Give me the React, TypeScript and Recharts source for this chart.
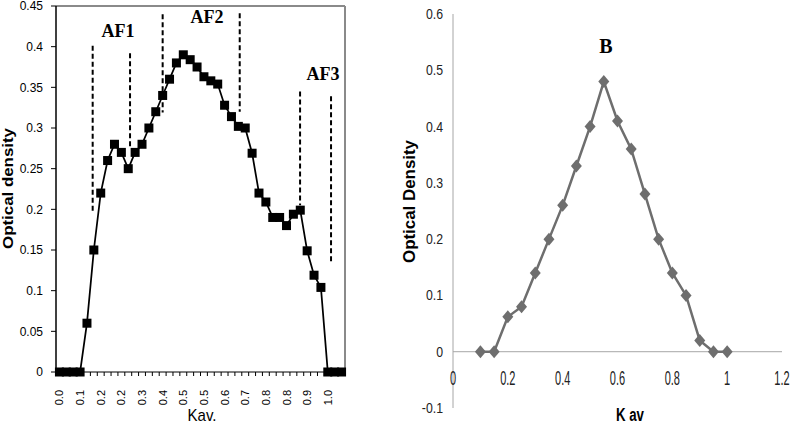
import React from "react";
import { Line, LineChart, ReferenceLine, XAxis, YAxis } from "recharts";

// panel A: elution profile, one value per fraction (Kav categories)
const kavLabels = ["0.0", "0.1", "0.2", "0.2", "0.3", "0.4", "0.5", "0.5", "0.6", "0.7", "0.8", "0.8", "0.9", "1.0"];
const densityA = [
  0, 0, 0, 0, 0.06, 0.15, 0.22, 0.26, 0.28, 0.27, 0.25, 0.27, 0.28, 0.3, 0.32, 0.34, 0.36, 0.38, 0.39, 0.384, 0.375,
  0.363, 0.358, 0.354, 0.328, 0.314, 0.302, 0.3, 0.269, 0.22, 0.209, 0.19, 0.19, 0.18, 0.194, 0.199, 0.149, 0.119,
  0.104, 0, 0, 0,
];
const densityTicks = [0, 0.05, 0.1, 0.15, 0.2, 0.25, 0.3, 0.35, 0.4, 0.45];
// dashed cut marks between pooled fractions (fraction index, top, bottom)
const cutAt = [4.83, 10.26, 15.0, 26.2, 34.97, 39.47];
const cutTop = [0.401, 0.392, 0.44, 0.441, 0.345, 0.339];
const cutBottom = [0.195, 0.277, 0.319, 0.32, 0.205, 0.134];

// panel B
const kavB = [0.1, 0.15, 0.2, 0.25, 0.3, 0.35, 0.4, 0.45, 0.5, 0.55, 0.6, 0.65, 0.7, 0.75, 0.8, 0.85, 0.9, 0.95, 1.0];
const densityB = [0, 0, 0.062, 0.08, 0.14, 0.2, 0.26, 0.33, 0.4, 0.48, 0.41, 0.36, 0.28, 0.2, 0.14, 0.1, 0.02, 0, 0];
const kavTicksB = [0, 0.2, 0.4, 0.6, 0.8, 1, 1.2];
const densityTicksB = [-0.1, 0, 0.1, 0.2, 0.3, 0.4, 0.5, 0.6];

const dataA = densityA.map((v, i) => ({ i, v }));
const dataB = kavB.map((x, i) => ({ x, y: densityB[i] }));

const sans = "'Liberation Sans', Arial, sans-serif";
const serif = "'Liberation Serif', 'Times New Roman', serif";
const greyB = "#6e6e6e";

const ticksA = [
  ...densityA.map((_, i) => i - 0.5),
  densityA.length - 0.5,
  ...kavLabels.map((_, j) => j * 3),
];

function KavTick({ x, y, payload }: any) {
  const v = payload.value;
  if (!Number.isInteger(v)) {
    return <line x1={x} y1={y} x2={x} y2={y + 4} stroke="#000" strokeWidth={1} />;
  }
  return (
    <text
      transform={`translate(${x + 4},${y + 18}) rotate(-90)`}
      textAnchor="end"
      fontSize={11}
      fontFamily={sans}
      fill="#000"
    >
      {kavLabels[v / 3]}
    </text>
  );
}

function Square({ cx, cy }: any) {
  if (cx == null || cy == null) return null;
  return <rect x={cx - 4.5} y={cy - 4.5} width={9} height={9} fill="#000" />;
}

function Diamond({ cx, cy }: any) {
  if (cx == null || cy == null) return null;
  return <path d={`M${cx},${cy - 6.5} L${cx + 5.5},${cy} L${cx},${cy + 6.5} L${cx - 5.5},${cy} Z`} fill={greyB} />;
}

function BTickX({ x, y, payload }: any) {
  return (
    <text
      transform={`translate(${x},${y - 23}) scale(0.55,1)`}
      textAnchor="middle"
      fontSize={20}
      fontFamily={sans}
      fill="#222"
    >
      {String(payload.value)}
    </text>
  );
}

function BTickY({ x, y, payload }: any) {
  return (
    <text
      transform={`translate(${x - 10},${y + 5}) scale(0.82,1)`}
      textAnchor="end"
      fontSize={15}
      fontFamily={sans}
      fill="#222"
    >
      {String(payload.value)}
    </text>
  );
}

function PanelA() {
  return (
    <LineChart width={370} height={426} data={dataA} margin={{ top: 6, right: 25, bottom: 14, left: 12 }}>
      <XAxis
        dataKey="i"
        type="number"
        domain={[-0.5, 41.5]}
        ticks={ticksA}
        interval={0}
        tick={<KavTick />}
        tickLine={false}
        tickSize={0}
        tickMargin={0}
        height={40}
        axisLine={{ stroke: "#000", strokeWidth: 1 }}
      />
      <YAxis
        type="number"
        domain={[0, 0.45]}
        ticks={densityTicks}
        interval={0}
        width={44}
        tickSize={5}
        tickMargin={8}
        tickLine={{ stroke: "#000" }}
        axisLine={{ stroke: "#000", strokeWidth: 1.5 }}
        tick={{ fontSize: 12, fill: "#000", fontFamily: sans }}
        tickFormatter={(v: number) => String(Number(v.toFixed(2)))}
      />
      <ReferenceLine y={0.45} stroke="#8a8a8a" strokeWidth={2} />
      <ReferenceLine x={41.5} stroke="#8a8a8a" strokeWidth={2} />
      {cutAt.map((c, k) => (
        <ReferenceLine
          key={k}
          segment={[
            { x: c, y: cutTop[k] },
            { x: c, y: cutBottom[k] },
          ]}
          stroke="#000"
          strokeWidth={2}
          strokeDasharray="5 3"
        />
      ))}
      <Line
        dataKey="v"
        type="linear"
        stroke="#000"
        strokeWidth={1.75}
        dot={<Square />}
        activeDot={false}
        isAnimationActive={false}
      />
    </LineChart>
  );
}

function PanelB() {
  return (
    <LineChart width={400} height={426} data={dataB} margin={{ top: 14, right: 8, bottom: 0, left: 13 }}>
      <XAxis
        dataKey="x"
        type="number"
        domain={[0, 1.2]}
        ticks={kavTicksB}
        interval={0}
        height={18}
        tickSize={0}
        tickMargin={0}
        tickLine={false}
        axisLine={false}
        tick={<BTickX />}
      />
      <YAxis
        type="number"
        domain={[-0.1, 0.6]}
        ticks={densityTicksB}
        interval={0}
        width={50}
        tickSize={0}
        tickMargin={0}
        tickLine={false}
        axisLine={{ stroke: "#a6a6a6", strokeWidth: 1 }}
        tick={<BTickY />}
      />
      <ReferenceLine y={0} stroke="#a6a6a6" strokeWidth={1} />
      <Line
        dataKey="y"
        type="linear"
        stroke={greyB}
        strokeWidth={2.5}
        dot={<Diamond />}
        activeDot={false}
        isAnimationActive={false}
      />
    </LineChart>
  );
}

export default function App() {
  return (
    <div style={{ position: "absolute", left: 0, top: 0, width: 790, height: 426, background: "#fff", overflow: "hidden" }}>
      <div style={{ position: "absolute", left: 0, top: 0 }}>
        <PanelA />
      </div>
      <div style={{ position: "absolute", left: 390, top: 0 }}>
        <PanelB />
      </div>
      <svg width={790} height={426} style={{ position: "absolute", left: 0, top: 0, pointerEvents: "none" }}>
        <text
          transform="translate(12.5,188.5) rotate(-90)"
          textAnchor="middle"
          fontSize={14}
          fontWeight="bold"
          fontFamily={sans}
          textLength={121}
          lengthAdjust="spacingAndGlyphs"
        >
          Optical density
        </text>
        <text x={202} y={421} textAnchor="middle" fontSize={17} fontFamily={sans} textLength={29} lengthAdjust="spacingAndGlyphs">
          Kav.
        </text>
        <text x={118} y={36.5} textAnchor="middle" fontSize={18} fontWeight="bold" fontFamily={serif}>
          AF1
        </text>
        <text x={207} y={23} textAnchor="middle" fontSize={18} fontWeight="bold" fontFamily={serif}>
          AF2
        </text>
        <text x={323} y={80} textAnchor="middle" fontSize={18} fontWeight="bold" fontFamily={serif}>
          AF3
        </text>
        <text x={606} y={53} textAnchor="middle" fontSize={20} fontWeight="bold" fontFamily={serif}>
          B
        </text>
        <text
          transform="translate(415,201.5) rotate(-90)"
          textAnchor="middle"
          fontSize={16}
          fontWeight="bold"
          fontFamily={sans}
          textLength={123}
          lengthAdjust="spacingAndGlyphs"
        >
          Optical Density
        </text>
        <text x={630} y={421} textAnchor="middle" fontSize={18} fontWeight="bold" fontFamily={sans} textLength={28} lengthAdjust="spacingAndGlyphs">
          K av
        </text>
      </svg>
    </div>
  );
}
